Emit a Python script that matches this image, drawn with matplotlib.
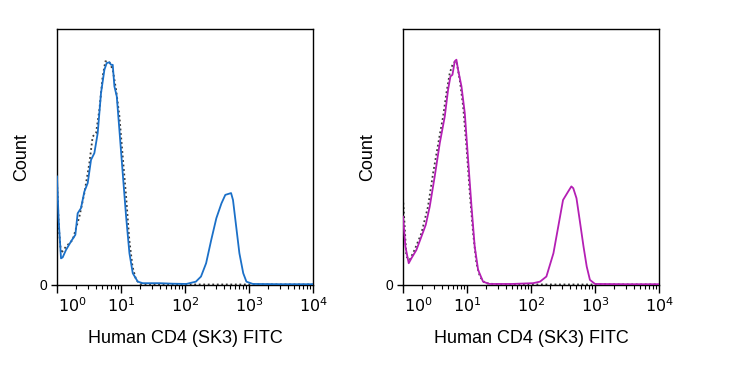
import matplotlib

matplotlib.use("Agg")
import matplotlib.pyplot as plt
import matplotlib.transforms as mtransforms
import numpy as np

plt.rcParams["font.family"] = ["Liberation Sans", "DejaVu Sans"]

# left panel: stained (blue) and isotype control (dotted), x in log10 units, y in % of axis height
left_stain_logx = [0.0, 0.026, 0.063, 0.089, 0.141, 0.219, 0.287, 0.323, 0.375, 0.428, 0.480, 0.532,
                   0.584, 0.636, 0.688, 0.741, 0.777, 0.819, 0.845, 0.871, 0.897, 0.934, 0.975, 1.027,
                   1.080, 1.132, 1.184, 1.262, 1.340, 1.60, 1.81, 2.02, 2.17, 2.25, 2.33, 2.41, 2.49,
                   2.57, 2.63, 2.72, 2.75, 2.80, 2.85, 2.91, 2.96, 3.06, 3.5, 4.0]
left_stain_y = [42.4, 25.4, 10.4, 10.8, 13.7, 17.0, 19.6, 28.0, 30.0, 36.5, 39.8, 48.9,
                51.5, 59.3, 75.0, 84.1, 86.7, 87.0, 86.0, 86.0, 77.6, 73.7, 60.6, 43.7,
                26.7, 12.4, 4.6, 1.3, 0.7, 0.7, 0.5, 0.4, 1.3, 3.3, 8.5, 17.6, 26.1,
                31.9, 35.2, 35.9, 33.2, 22.8, 12.4, 4.6, 1.3, 0.4, 0.3, 0.3]
left_ctrl_logx = [0.0, 0.03, 0.063, 0.141, 0.245, 0.35, 0.428, 0.506, 0.558, 0.61, 0.662, 0.714,
                  0.756, 0.819, 0.871, 0.923, 0.975, 1.027, 1.08, 1.13, 1.18, 1.236, 1.30, 1.6,
                  2.5, 3.2, 4.0]
left_ctrl_y = [40.0, 22.0, 12.4, 15.0, 17.6, 26.7, 35.9, 47.6, 58.0, 59.3, 68.4, 81.5,
               87.4, 87.0, 84.1, 76.3, 66.0, 50.2, 34.6, 17.6, 7.2, 2.0, 0.4, 0.2,
               0.2, 0.2, 0.2]

# right panel: stained (magenta) and isotype control (dotted)
right_stain_logx = [0.0, 0.037, 0.089, 0.13, 0.209, 0.287, 0.355, 0.417, 0.495, 0.574, 0.652, 0.704,
                    0.741, 0.772, 0.808, 0.834, 0.86, 0.913, 0.965, 1.017, 1.07, 1.12, 1.173, 1.25,
                    1.35, 1.7, 2.03, 2.14, 2.24, 2.35, 2.425, 2.50, 2.58, 2.63, 2.66, 2.71, 2.76,
                    2.82, 2.87, 2.92, 3.0, 3.5, 4.0]
right_stain_y = [26.7, 15.0, 8.5, 10.4, 13.7, 18.9, 23.5, 30.6, 42.4, 55.4, 65.8, 76.3,
                 81.5, 82.1, 87.4, 88.0, 84.1, 77.6, 67.1, 48.9, 30.6, 15.0, 5.9, 1.3,
                 0.4, 0.4, 0.7, 1.3, 3.3, 12.4, 22.8, 33.2, 36.5, 38.5, 37.8, 33.9, 25.4,
                 15.0, 7.2, 2.0, 0.4, 0.3, 0.3]
right_ctrl_logx = [0.0, 0.026, 0.052, 0.104, 0.18, 0.287, 0.39, 0.47, 0.574, 0.626, 0.678, 0.73,
                   0.782, 0.834, 0.886, 0.939, 0.991, 1.043, 1.095, 1.147, 1.2, 1.28, 1.5, 2.5,
                   3.3, 4.0]
right_ctrl_y = [33.9, 22.8, 11.1, 9.8, 13.7, 20.2, 30.6, 43.7, 58.7, 65.8, 75.0, 82.8,
                86.7, 87.4, 80.2, 69.8, 54.1, 35.9, 20.2, 8.5, 3.3, 0.7, 0.2, 0.2,
                0.2, 0.2]

decades = [0, 1, 2, 3, 4]
x_label = "Human CD4 (SK3) FITC"
y_label = "Count"

panels = [
    (0.0769, left_stain_logx, left_stain_y, left_ctrl_logx, left_ctrl_y, "#1b70c8"),
    (0.5439, right_stain_logx, right_stain_y, right_ctrl_logx, right_ctrl_y, "#b41fb4"),
]

fig = plt.figure(figsize=(7.41, 3.86), dpi=100)

for left, s_x, s_y, c_x, c_y, color in panels:
    ax = fig.add_axes([left, 0.2617, 0.3455, 0.6632])
    ax.plot(10 ** np.asarray(c_x), c_y, color="#3a3a3a", linestyle=(0, (1, 1.5)), linewidth=1.3, zorder=2)
    ax.plot(10 ** np.asarray(s_x), s_y, color=color, linewidth=1.3, zorder=3)
    ax.set_xscale("log")
    ax.set_xlim(1, 1e4)
    ax.set_ylim(0, 100)

    ax.set_xticks([10.0 ** d for d in decades])
    ax.set_xticklabels([f"$10^{{{d}}}$" for d in decades], fontsize=11.5)
    ax.xaxis.set_minor_locator(matplotlib.ticker.LogLocator(base=10, subs=np.arange(2, 10)))
    ax.xaxis.set_minor_formatter(matplotlib.ticker.NullFormatter())
    ax.tick_params(axis="x", which="major", direction="out", length=6, width=1, pad=2)
    ax.tick_params(axis="x", which="minor", direction="out", length=3, width=0.8)
    # first decade label sits to the right of the axis corner
    first = ax.get_xticklabels()[0]
    first.set_transform(first.get_transform() + mtransforms.ScaledTranslation(15 / 100, 0, fig.dpi_scale_trans))

    ax.set_yticks([0])
    ax.set_yticklabels(["0"], fontsize=10)
    ax.tick_params(axis="y", direction="out", length=4, width=1, pad=3)

    for spine in ax.spines.values():
        spine.set_linewidth(1.0)
        spine.set_color("black")

    ax.set_xlabel(x_label, fontsize=13, labelpad=11)
    ax.set_ylabel(y_label, fontsize=13, labelpad=7)

fig.savefig("out.png", dpi=100)
plt.close(fig)
